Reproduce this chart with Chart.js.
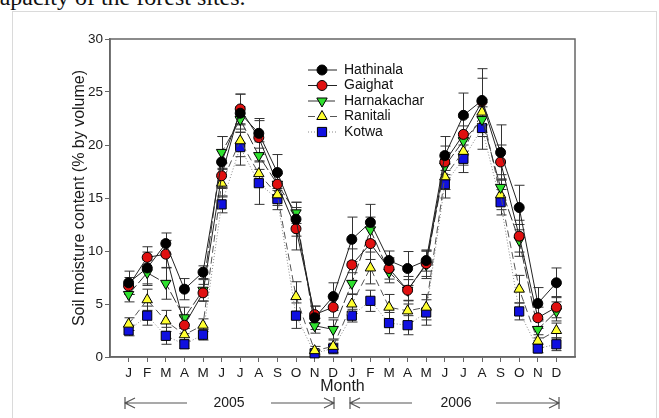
<!DOCTYPE html>
<html>
<head>
<meta charset="utf-8">
<script src="https://cdn.jsdelivr.net/npm/chart.js@4.4.1/dist/chart.umd.min.js"></script>
<style>
  body { margin: 0; background: #fff; overflow: hidden; }
  #caption { position: absolute; left: -11px; top: -15px; font: 24px/24px "Liberation Serif", "Times New Roman", serif; color: #111; white-space: nowrap; }
  #frame { position: absolute; left: 12px; top: 11px; width: 643px; height: 430px; border: 1px solid #dadada; }
  #wrap { position: absolute; left: 0; top: 0; width: 659px; height: 418px; }
</style>
</head>
<body>
<div id="caption">capacity of the forest sites.</div>
<div id="frame"></div>
<div id="wrap"><canvas id="moistureChart"></canvas></div>
<script>
// month letters, Jan 2005 .. Dec 2006
var months = ['J','F','M','A','M','J','J','A','S','O','N','D',
              'J','F','M','A','M','J','J','A','S','O','N','D'];
var yTicks = [0, 5, 10, 15, 20, 25, 30];

var hathinala   = [7.0, 8.4, 10.7, 6.4, 8.0, 18.4, 23.0, 21.1, 17.4, 13.0, 3.7, 5.7,
                   11.1, 12.7, 9.1, 8.35, 9.1, 19.0, 22.8, 24.2, 19.3, 14.1, 5.05, 7.0];
var gaighat     = [6.7, 9.4, 9.7, 3.0, 6.05, 17.1, 23.4, 20.7, 16.3, 12.1, 4.0, 4.7,
                   8.7, 10.7, 8.35, 6.3, 8.8, 18.4, 21.0, 24.1, 18.4, 11.4, 3.7, 4.7];
var harnakachar = [5.9, 7.95, 6.95, 3.7, 6.3, 19.3, 22.4, 19.0, 16.3, 13.6, 2.95, 2.6,
                   6.95, 12.0, 8.0, 6.3, 8.7, 18.0, 20.4, 22.4, 16.0, 11.0, 2.6, 4.3];
var ranitali    = [3.1, 5.4, 3.4, 2.1, 3.0, 16.4, 20.4, 17.3, 15.3, 5.7, 0.6, 1.0,
                   5.0, 8.4, 4.7, 4.35, 4.7, 17.0, 19.4, 23.1, 15.3, 6.4, 1.5, 2.5];
var kotwa       = [2.5, 3.9, 2.0, 1.2, 2.1, 14.4, 19.8, 16.4, 14.9, 3.9, 0.35, 0.8,
                   3.9, 5.3, 3.2, 3.0, 4.2, 16.3, 18.7, 21.6, 14.6, 4.3, 0.8, 1.2];

// error bars (+/-)
var hathinalaErr   = [1.1, 1.5, 1.0, 1.0, 0.6, 2.4, 1.8, 1.4, 1.7, 1.6, 1.1, 1.3,
                      2.1, 1.7, 0.9, 1.6, 1.0, 1.8, 2.1, 3.0, 2.6, 2.1, 1.5, 1.4];
var gaighatErr     = [0.8, 1.0, 1.3, 0.8, 0.8, 1.2, 1.4, 1.6, 1.0, 2.0, 0.8, 1.0,
                      1.5, 1.5, 1.0, 1.0, 1.2, 1.5, 1.6, 2.2, 1.6, 1.5, 1.0, 1.0];
var harnakacharErr = [0.7, 1.2, 1.5, 1.0, 1.0, 1.5, 1.2, 1.3, 1.0, 1.0, 0.7, 0.9,
                      1.0, 1.2, 1.0, 1.3, 1.3, 1.3, 1.4, 1.6, 1.2, 1.5, 0.8, 0.9];
var ranitaliErr    = [0.6, 1.0, 1.0, 0.6, 0.6, 1.3, 1.5, 1.2, 1.0, 1.4, 0.4, 0.6,
                      0.9, 1.5, 1.2, 1.0, 1.2, 1.2, 1.3, 1.2, 1.4, 1.3, 0.6, 0.7];
var kotwaErr       = [0.5, 0.9, 0.8, 0.4, 0.5, 0.8, 1.7, 2.0, 1.0, 1.2, 0.3, 0.5,
                      0.6, 1.0, 1.0, 0.9, 1.2, 1.3, 1.3, 2.0, 1.2, 0.8, 0.4, 0.6];

Chart.defaults.font.family = 'Arial, "Liberation Sans", sans-serif';
Chart.defaults.color = '#1a1a1a';

function pts(vals) {
  return vals.map(function(v, i) { return { x: i, y: v }; });
}

function series(label, vals, errs, fill, style, radius, rotation, lineColor, dash) {
  return {
    label: label,
    data: pts(vals),
    errors: errs,
    borderColor: lineColor,
    borderWidth: 1,
    borderDash: dash,
    pointStyle: style,
    pointRotation: rotation,
    pointRadius: radius,
    pointBackgroundColor: fill,
    pointBorderColor: '#000',
    pointBorderWidth: 1,
    tension: 0,
    clip: false
  };
}

var datasets = [
  series('Hathinala', hathinala, hathinalaErr, '#000000', 'circle', 5, 0, '#222', []),
  series('Gaighat', gaighat, gaighatErr, '#e01010', 'circle', 5, 0, '#222', []),
  series('Harnakachar', harnakachar, harnakacharErr, '#2ee02e', 'triangle', 6, 180, '#333', [12, 3]),
  series('Ranitali', ranitali, ranitaliErr, '#ffff30', 'triangle', 6, 0, '#555', [7, 4]),
  series('Kotwa', kotwa, kotwaErr, '#1010e0', 'rect', 6.5, 0, '#888', [1, 2])
];

var errorBars = {
  id: 'errorBars',
  beforeDatasetsDraw: function(chart) {
    var ctx = chart.ctx, xs = chart.scales.x, ys = chart.scales.y, a = chart.chartArea;
    ctx.save();
    // box round the plot
    ctx.strokeStyle = '#666';
    ctx.lineWidth = 1.5;
    ctx.strokeRect(a.left, a.top, a.right - a.left, a.bottom - a.top);
    ctx.strokeStyle = '#333';
    ctx.lineWidth = 1;
    chart.data.datasets.forEach(function(ds) {
      ds.data.forEach(function(p, i) {
        var e = ds.errors[i];
        var px = Math.round(xs.getPixelForValue(p.x)) + 0.5;
        var t = ys.getPixelForValue(p.y + e);
        var b = ys.getPixelForValue(Math.max(p.y - e, 0));
        ctx.beginPath();
        ctx.moveTo(px, t); ctx.lineTo(px, b);
        ctx.moveTo(px - 5, t); ctx.lineTo(px + 5, t);
        ctx.moveTo(px - 5, b); ctx.lineTo(px + 5, b);
        ctx.stroke();
      });
    });
    ctx.restore();
  }
};

var extras = {
  id: 'extras',
  afterDraw: function(chart) {
    var ctx = chart.ctx;
    ctx.save();
    // legend
    var rowY = [70, 85.5, 101, 116.5, 132];
    ctx.font = '14px Arial, "Liberation Sans", sans-serif';
    ctx.textBaseline = 'middle';
    chart.data.datasets.forEach(function(ds, i) {
      var y = rowY[i];
      ctx.strokeStyle = ds.borderColor;
      ctx.lineWidth = 1;
      ctx.setLineDash(ds.borderDash);
      ctx.beginPath();
      ctx.moveTo(308, y); ctx.lineTo(337, y);
      ctx.stroke();
      ctx.setLineDash([]);
      ctx.fillStyle = ds.pointBackgroundColor;
      ctx.strokeStyle = '#000';
      Chart.helpers.drawPoint(ctx, {
        pointStyle: ds.pointStyle, rotation: ds.pointRotation,
        radius: ds.pointRadius, borderWidth: 1
      }, 322, y);
      ctx.fillStyle = '#111';
      ctx.fillText(ds.label, 344, y);
    });

    // year spans under the month axis
    var yy = 403;
    ctx.strokeStyle = '#555';
    ctx.lineWidth = 1.2;
    function span(x1, x2, l1, l2) {
      ctx.beginPath();
      ctx.moveTo(x1, yy - 6); ctx.lineTo(x1, yy + 6);
      ctx.moveTo(x1 + 10, yy - 5); ctx.lineTo(x1, yy); ctx.lineTo(x1 + 10, yy + 5);
      ctx.moveTo(x1, yy); ctx.lineTo(l1, yy);
      ctx.moveTo(l2, yy); ctx.lineTo(x2, yy);
      ctx.moveTo(x2 - 10, yy - 5); ctx.lineTo(x2, yy); ctx.lineTo(x2 - 10, yy + 5);
      ctx.moveTo(x2, yy - 6); ctx.lineTo(x2, yy + 6);
      ctx.stroke();
    }
    span(125, 334, 187, 271);
    span(350, 559, 412, 496);
    ctx.fillStyle = '#1a1a1a';
    ctx.textAlign = 'center';
    ctx.fillText('2005', 229, yy);
    ctx.fillText('2006', 456, yy);
    ctx.restore();
  }
};

var ctx = document.getElementById('moistureChart');
var moistureChart = new Chart(ctx, {
  type: 'line',
  data: { datasets: datasets },
  plugins: [errorBars, extras],
  options: {
    responsive: true,
    maintainAspectRatio: false,
    animation: false,
    layout: { padding: { left: 66, top: 39, right: 84, bottom: 20 } },
    plugins: { legend: { display: false }, tooltip: { enabled: false } },
    scales: {
      x: {
        type: 'linear',
        min: -1,
        max: 24,
        afterBuildTicks: function(scale) {
          scale.ticks = months.map(function(m, i) { return { value: i }; });
        },
        afterFit: function(scale) { scale.height = 41; },
        ticks: {
          autoSkip: false, maxRotation: 0, padding: 3,
          font: { size: 13.5 },
          callback: function(v) { return months[v]; }
        },
        grid: { drawOnChartArea: false, drawTicks: true, tickLength: 5, color: '#666' },
        border: { color: '#666', width: 1.5 },
        title: { display: true, text: 'Month', font: { size: 16 }, padding: { top: 0, bottom: 2 } }
      },
      y: {
        min: 0,
        max: 30,
        afterBuildTicks: function(scale) {
          scale.ticks = yTicks.map(function(v) { return { value: v }; });
        },
        afterFit: function(scale) { scale.width = 44; },
        ticks: { font: { size: 13.5 }, padding: 2 },
        grid: { drawOnChartArea: false, drawTicks: true, tickLength: 5, color: '#666' },
        border: { color: '#666', width: 1.5 },
        title: { display: true, text: 'Soil moisture content (% by volume)', font: { size: 16 }, padding: { top: 4, bottom: 0 } }
      }
    }
  }
});
</script>
</body>
</html>
